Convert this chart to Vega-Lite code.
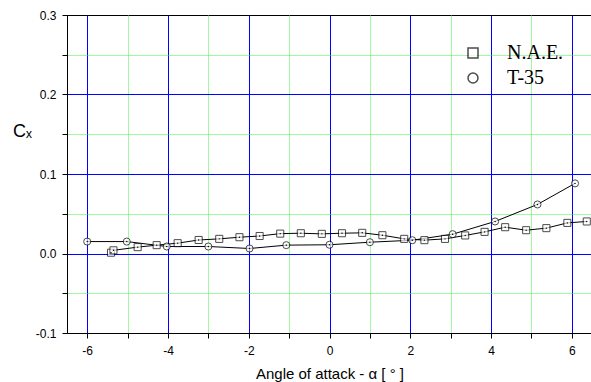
{
  "$schema": "https://vega.github.io/schema/vega-lite/v6.json",
  "autosize": {"type": "none"},
  "padding": {"left": 67, "top": 15, "right": 0, "bottom": 49},
  "width": 525,
  "height": 318,
  "background": "white",
  "config": {
    "view": {"stroke": "black", "strokeWidth": 1},
    "axis": {
      "labelFont": "Liberation Sans",
      "labelFontSize": 12,
      "labelColor": "black",
      "titleFont": "Liberation Sans",
      "titleFontWeight": "normal",
      "titleColor": "black",
      "domainColor": "black",
      "domainWidth": 1,
      "tickColor": "black",
      "tickWidth": 1,
      "tickSize": 5
    }
  },
  "data": {
    "values": [
      {"series": "N.A.E.", "alpha": -5.41, "cx": 0.001},
      {"series": "N.A.E.", "alpha": -5.35, "cx": 0.004},
      {"series": "N.A.E.", "alpha": -4.75, "cx": 0.008},
      {"series": "N.A.E.", "alpha": -4.28, "cx": 0.0105},
      {"series": "N.A.E.", "alpha": -3.76, "cx": 0.013},
      {"series": "N.A.E.", "alpha": -3.24, "cx": 0.017},
      {"series": "N.A.E.", "alpha": -2.73, "cx": 0.0184},
      {"series": "N.A.E.", "alpha": -2.23, "cx": 0.0205},
      {"series": "N.A.E.", "alpha": -1.73, "cx": 0.022},
      {"series": "N.A.E.", "alpha": -1.22, "cx": 0.025},
      {"series": "N.A.E.", "alpha": -0.71, "cx": 0.0255},
      {"series": "N.A.E.", "alpha": -0.19, "cx": 0.0247},
      {"series": "N.A.E.", "alpha": 0.31, "cx": 0.0255},
      {"series": "N.A.E.", "alpha": 0.81, "cx": 0.026},
      {"series": "N.A.E.", "alpha": 1.31, "cx": 0.023},
      {"series": "N.A.E.", "alpha": 1.85, "cx": 0.0184},
      {"series": "N.A.E.", "alpha": 2.35, "cx": 0.0168},
      {"series": "N.A.E.", "alpha": 2.86, "cx": 0.0184},
      {"series": "N.A.E.", "alpha": 3.36, "cx": 0.0227},
      {"series": "N.A.E.", "alpha": 3.84, "cx": 0.0272},
      {"series": "N.A.E.", "alpha": 4.35, "cx": 0.0331},
      {"series": "N.A.E.", "alpha": 4.87, "cx": 0.0293},
      {"series": "N.A.E.", "alpha": 5.37, "cx": 0.0319},
      {"series": "N.A.E.", "alpha": 5.89, "cx": 0.0385},
      {"series": "N.A.E.", "alpha": 6.37, "cx": 0.0403},
      {"series": "T-35", "alpha": -6.0, "cx": 0.015},
      {"series": "T-35", "alpha": -5.02, "cx": 0.015},
      {"series": "T-35", "alpha": -4.03, "cx": 0.0088},
      {"series": "T-35", "alpha": -3.0, "cx": 0.0088},
      {"series": "T-35", "alpha": -1.98, "cx": 0.0063},
      {"series": "T-35", "alpha": -1.07, "cx": 0.0105},
      {"series": "T-35", "alpha": 0.0, "cx": 0.011},
      {"series": "T-35", "alpha": 1.0, "cx": 0.0142},
      {"series": "T-35", "alpha": 2.05, "cx": 0.0167},
      {"series": "T-35", "alpha": 3.05, "cx": 0.0243},
      {"series": "T-35", "alpha": 4.1, "cx": 0.0403},
      {"series": "T-35", "alpha": 5.15, "cx": 0.0617},
      {"series": "T-35", "alpha": 6.08, "cx": 0.0882}
    ]
  },
  "encoding": {
    "x": {
      "field": "alpha",
      "type": "quantitative",
      "scale": {"domain": [-6.5, 6.5], "nice": false, "zero": false},
      "axis": {
        "title": "Angle of attack - α [ ° ]",
        "titleFontSize": 15,
        "titlePadding": 10,
        "values": [-6, -5, -4, -3, -2, -1, 0, 1, 2, 3, 4, 5, 6],
        "labelExpr": "abs(datum.value % 2) < 0.01 ? '' + datum.value : ''",
        "labelPadding": 7,
        "grid": true,
        "gridColor": {"condition": {"test": "abs(datum.value % 2) < 0.01", "value": "#0000ff"}, "value": "#44ee44"},
        "gridDash": {"condition": {"test": "abs(datum.value % 2) < 0.01", "value": []}, "value": [1, 1]},
        "gridWidth": 1,
        "gridOpacity": 1
      }
    },
    "y": {
      "field": "cx",
      "type": "quantitative",
      "scale": {"domain": [-0.1, 0.3], "nice": false, "zero": false},
      "axis": {
        "title": "Cₓ",
        "titleAngle": 0,
        "titleFontSize": 18,
        "titleAlign": "center",
        "titleBaseline": "middle",
        "titleX": -45,
        "titleY": 116,
        "values": [-0.1, -0.05, 0, 0.05, 0.1, 0.15, 0.2, 0.25, 0.3],
        "labelExpr": "abs(datum.value*10 - round(datum.value*10)) < 0.001 ? (datum.value < -0.0001 ? '-' : '') + format(abs(datum.value), '.1f') : ''",
        "labelPadding": 6,
        "grid": true,
        "gridColor": {"condition": {"test": "abs(datum.value*10 - round(datum.value*10)) < 0.001", "value": "#0000ff"}, "value": "#44ee44"},
        "gridDash": {"condition": {"test": "abs(datum.value*10 - round(datum.value*10)) < 0.001", "value": []}, "value": [1, 1]},
        "gridOpacity": {"condition": {"test": "datum.value > 0.29 || datum.value < -0.09", "value": 0}, "value": 1},
        "gridWidth": 1
      }
    }
  },
  "layer": [
    {
      "mark": {"type": "line", "color": "black", "strokeWidth": 1},
      "encoding": {"detail": {"field": "series", "type": "nominal"}, "order": {"field": "alpha", "type": "quantitative"}}
    },
    {
      "mark": {"type": "point", "filled": true, "fill": "white", "stroke": "black", "strokeWidth": 1, "size": 50},
      "encoding": {
        "shape": {
          "field": "series",
          "type": "nominal",
          "scale": {"domain": ["N.A.E.", "T-35"], "range": ["square", "circle"]},
          "legend": {
            "orient": "top-right",
            "offset": 28,
            "title": null,
            "labelFont": "Liberation Serif",
            "labelFontSize": 20,
            "labelColor": "black",
            "labelOffset": 24,
            "rowPadding": 5
          }
        }
      }
    },
    {
      "mark": {"type": "point", "filled": true, "color": "black", "size": 2, "opacity": 1},
      "encoding": {"detail": {"field": "series", "type": "nominal"}}
    }
  ]
}
